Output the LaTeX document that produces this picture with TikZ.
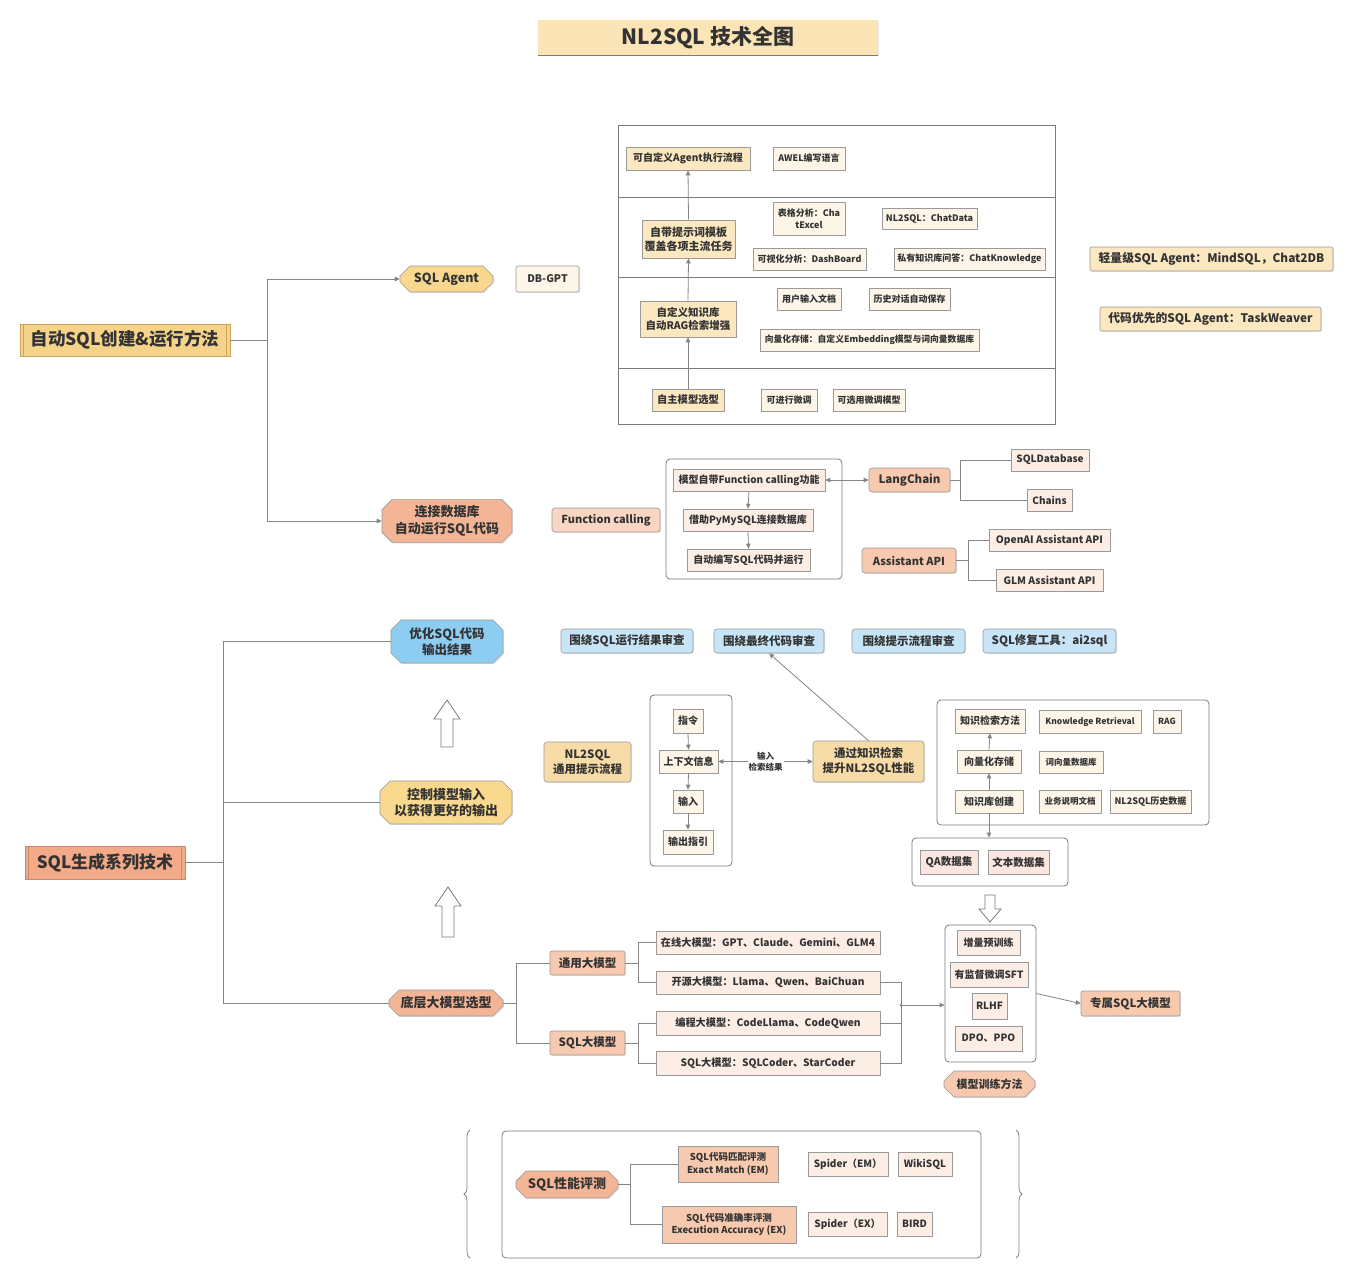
\documentclass[tikz,border=0pt]{standalone}
\usepackage{fontspec}
\setmainfont{Noto Sans CJK SC}
\usetikzlibrary{shapes.misc,arrows.meta,decorations.pathreplacing,shadows}
\definecolor{cText}{HTML}{333333}
\definecolor{cLine}{HTML}{9A9A9A}
\definecolor{cCont}{HTML}{7A7A7A}
\definecolor{cConn}{HTML}{858585}
\definecolor{cTitle}{HTML}{FBE4B6}
\definecolor{cGold}{HTML}{F5D48A}
\definecolor{cGoldL}{HTML}{C9A55C}
\definecolor{cGold2}{HTML}{F8D88E}
\definecolor{cTan}{HTML}{FBE7C0}
\definecolor{cTan2}{HTML}{F8DCA7}
\definecolor{cCream}{HTML}{FDF6E8}
\definecolor{cSalmon}{HTML}{F4B596}
\definecolor{cSalmon2}{HTML}{F2AA88}
\definecolor{cSalL}{HTML}{C98A6C}
\definecolor{cMSalmon}{HTML}{F7C9AE}
\definecolor{cLSalmon}{HTML}{F9D6C2}
\definecolor{cPeach}{HTML}{FDEEE5}
\definecolor{cPink}{HTML}{FCE6E0}
\definecolor{cBlue}{HTML}{8DCDF2}
\definecolor{cLBlue}{HTML}{C8E4F7}
\definecolor{cGold3}{HTML}{F8D98D}
\tikzset{
  fs/.code={\pgfmathsetmacro\fslead{1.3*#1}\edef\fsfont{\noexpand\fontsize{#1}{\fslead}\noexpand\selectfont\noexpand\bfseries}\tikzset{font/.expand once=\fsfont}},
  box/.style={draw=cLine, line width=0.6pt, inner sep=1pt, align=center, text=cText,
    drop shadow={opacity=0.18, shadow xshift=1.2pt, shadow yshift=-1.2pt}},
  cont/.style={draw=cCont, line width=0.8pt, rounded corners=4pt, inner sep=0pt},
  octo/.style={chamfered rectangle, chamfered rectangle xsep=5pt, chamfered rectangle ysep=5pt},
  conn/.style={draw=cConn, line width=0.8pt},
  arr/.style={conn, -{Triangle[length=5pt,width=4.5pt]}},
  darr/.style={conn, {Triangle[length=5pt,width=4.5pt]}-{Triangle[length=5pt,width=4.5pt]}},
  hollow/.style={draw=cCont, line width=0.8pt, fill=white}
}
\newcommand\mybox[7]{\node[#2,minimum width={(#5)-(#3)},minimum height={(#6)-(#4)}] (#1) at ({((#3)+(#5))/2},{((#4)+(#6))/2}) {#7};}
\begin{document}
\begin{tikzpicture}[x=1pt,y=-1pt]
\fill[white] (0,0) rectangle (1354,1280);
\useasboundingbox (0,0) rectangle (1354,1280);

% title
\mybox{title}{box,draw=none,drop shadow={opacity=0},fill=cTitle,fs=21}{538}{20}{878}{55}{NL2SQL 技术全图}
\draw[line width=1pt, cCont] (title.south west) -- (title.south east);

% ================= Section 1 =================
\mybox{auto}{box,fill=cGold,draw=cGoldL,fs=17.5}{20}{324}{230}{356}{自动SQL创建\&运行方法}
\draw[cGoldL,line width=0.6pt] ([xshift=4pt]auto.north west) -- ([xshift=4pt]auto.south west);
\draw[cGoldL,line width=0.6pt] ([xshift=-4pt]auto.north east) -- ([xshift=-4pt]auto.south east);
\mybox{sqlagent}{box,octo,fill=cGold2,fs=12.5}{400}{266}{493}{292}{SQL Agent}
\mybox{dbgpt}{box,rounded corners=2pt,fill=cCream,fs=10.5}{516}{266}{579}{292}{DB-GPT}

\mybox{agentbox}{cont,rounded corners=0pt}{618}{125}{1055}{424}{}
\draw[cCont,line width=0.8pt] (618,197) -- (1055,197);
\draw[cCont,line width=0.8pt] (618,277) -- (1055,277);
\draw[cCont,line width=0.8pt] (618,368) -- (1055,368);

\mybox{r1a}{box,fill=cTan,fs=10}{626}{147}{750}{170}{可自定义Agent执行流程}
\mybox{r1b}{box,fill=cCream,fs=9}{773}{147}{845}{170}{AWEL编写语言}
\mybox{r2a}{box,fill=cTan,fs=11}{642}{220}{735}{258}{自带提示词模板\\覆盖各项主流任务}
\mybox{r2b}{box,fill=cCream,fs=9}{773}{202}{845}{235}{表格分析：Cha\\tExcel}
\mybox{r2c}{box,fill=cCream,fs=9}{882}{208}{977}{229}{NL2SQL：ChatData}
\mybox{r2d}{box,fill=cCream,fs=9}{753}{248}{866}{270}{可视化分析：DashBoard}
\mybox{r2e}{box,fill=cCream,fs=9}{894}{248}{1045}{270}{私有知识库问答：ChatKnowledge}
\mybox{r3a}{box,fill=cTan,fs=10.5}{640}{301}{736}{337}{自定义知识库\\自动RAG检索增强}
\mybox{r3b}{box,fill=cCream,fs=9}{777}{288}{841}{310}{用户输入文档}
\mybox{r3c}{box,fill=cCream,fs=9}{869}{288}{950}{310}{历史对话自动保存}
\mybox{r3d}{box,fill=cCream,fs=8.8}{760}{329}{979}{351}{向量化存储：自定义Embedding模型与词向量数据库}
\mybox{r4a}{box,fill=cTan,fs=10.3}{652}{389}{724}{411}{自主模型选型}
\mybox{r4b}{box,fill=cCream,fs=9}{761}{389}{817}{411}{可进行微调}
\mybox{r4c}{box,fill=cCream,fs=9}{833}{389}{905}{411}{可选用微调模型}
\draw[arr] (r4a.north) -- (r3a.south);
\draw[arr] (r3a.north) -- (r2a.south);
\draw[arr] (r2a.north) -- (r1a.south);

\mybox{light}{box,rounded corners=2pt,fill=cTan,fs=11.8}{1090}{247}{1333}{271}{轻量级SQL Agent：MindSQL，Chat2DB}
\mybox{taskw}{box,rounded corners=2pt,fill=cTan,fs=11.8}{1100}{307}{1321}{331}{代码优先的SQL Agent：TaskWeaver}

\mybox{conn}{box,octo,fill=cSalmon,fs=13}{382}{500}{512}{542}{连接数据库\\自动运行SQL代码}
\mybox{fc}{box,rounded corners=3pt,fill=cLSalmon,fs=11}{552}{508}{660}{532}{Function calling}
\mybox{fcbox}{cont}{666}{459}{842}{579}{}
\mybox{fc1}{box,fill=cPeach,fs=10}{673}{469}{825}{491}{模型自带Function calling功能}
\mybox{fc2}{box,fill=cPeach,fs=10}{683}{509}{813}{531}{借助PyMySQL连接数据库}
\mybox{fc3}{box,fill=cPeach,fs=10}{687}{549}{810}{571}{自动编写SQL代码并运行}
\mybox{lc}{box,rounded corners=3pt,fill=cMSalmon,fs=11.5}{869}{468}{950}{492}{LangChain}
\mybox{sqldb}{box,fill=cPeach,fs=10}{1011}{449}{1089}{471}{SQLDatabase}
\mybox{chains}{box,fill=cPeach,fs=10}{1027}{489}{1072}{511}{Chains}
\mybox{asst}{box,rounded corners=3pt,fill=cMSalmon,fs=11}{862}{548}{956}{573}{Assistant API}
\mybox{oai}{box,fill=cPeach,fs=10.2}{989}{529}{1110}{551}{OpenAI Assistant API}
\mybox{glm}{box,fill=cPeach,fs=10.2}{996}{569}{1103}{591}{GLM Assistant API}

\draw[conn] (auto.east) -- ++(37,0) coordinate (aj);
\draw[arr] (aj) |- (sqlagent.west);
\draw[arr] (aj) |- (conn.west);
\draw[arr] (fc1.south) -- (fc2.north);
\draw[arr] (fc2.south) -- (fc3.north);
\draw[darr] (fc1.east) -- (lc.west);
\draw[conn] (lc.east) -- ++(10,0) coordinate (lcj);
\draw[conn] (lcj) |- (sqldb.west);
\draw[conn] (lcj) |- (chains.west);
\draw[conn] (asst.east) -- ++(12,0) coordinate (asj);
\draw[conn] (asj) |- (oai.west);
\draw[conn] (asj) |- (glm.west);

% ================= Section 2 =================
\mybox{gen}{box,fill=cSalmon2,draw=cSalL,fs=17}{25}{846}{185}{879}{SQL生成系列技术}
\draw[cSalL,line width=0.6pt] ([xshift=4pt]gen.north west) -- ([xshift=4pt]gen.south west);
\draw[cSalL,line width=0.6pt] ([xshift=-4pt]gen.north east) -- ([xshift=-4pt]gen.south east);
\mybox{opt}{box,octo,fill=cBlue,fs=12.5}{391}{620}{503}{663}{优化SQL代码\\输出结果}
\mybox{ctl}{box,octo,fill=cGold3,fs=13}{380}{781}{512}{824}{控制模型输入\\以获得更好的输出}
\mybox{base}{box,octo,fill=cSalmon,fs=13}{389}{990}{503}{1016}{底层大模型选型}
\draw[conn] (gen.east) -- ++(38,0) coordinate (gj);
\draw[conn] (gj) |- (opt.west);
\draw[conn] (gj) |- (ctl.west);
\draw[conn] (gj) |- (base.west);

\mybox{rv1}{box,rounded corners=3pt,fill=cLBlue,fs=11.5}{561}{629}{693}{653}{围绕SQL运行结果审查}
\mybox{rv2}{box,rounded corners=3pt,fill=cLBlue,fs=11.5}{714}{629}{824}{653}{围绕最终代码审查}
\mybox{rv3}{box,rounded corners=3pt,fill=cLBlue,fs=11.5}{852}{629}{965}{653}{围绕提示流程审查}
\mybox{rv4}{box,rounded corners=3pt,fill=cLBlue,fs=11.5}{983}{629}{1116}{653}{SQL修复工具：ai2sql}

% hollow arrows
\draw[hollow] (441,747) -- (441,719) -- (434,719) -- (447,700) -- (460,719) -- (453,719) -- (453,747) -- cycle;
\draw[hollow] (442,937) -- (442,906) -- (435,906) -- (448,887) -- (461,906) -- (454,906) -- (454,937) -- cycle;
\draw[hollow] (985,895) -- (995,895) -- (995,909) -- (1001,909) -- (990,922) -- (979,909) -- (985,909) -- cycle;

\mybox{nlp}{box,rounded corners=3pt,fill=cTan2,fs=11.5}{544}{742}{631}{782}{NL2SQL\\通用提示流程}
\mybox{pbox}{cont}{650}{695}{732}{866}{}
\mybox{p1}{box,fill=cCream,fs=10}{673}{709}{703}{733}{指令}
\mybox{p2}{box,fill=cCream,fs=10}{659}{750}{718}{773}{上下文信息}
\mybox{p3}{box,fill=cCream,fs=10}{673}{790}{703}{813}{输入}
\mybox{p4}{box,fill=cCream,fs=10}{663}{830}{713}{854}{输出指引}
\mybox{kr}{box,rounded corners=3pt,fill=cTan2,fs=11.5}{813}{741}{924}{782}{通过知识检索\\提升NL2SQL性能}
\draw[arr] (p1.south) -- (p2.north);
\draw[arr] (p2.south) -- (p3.north);
\draw[arr] (p3.south) -- (p4.north);
\draw[darr] (p2.east) -- node[fill=white, inner sep=1pt, align=center, text=cText, fs=8.5] (lbl) {输入\\检索结果} (kr.west);
\draw[arr] (kr.north) -- (rv2.south);

\mybox{kbox}{cont}{937}{700}{1209}{825}{}
\mybox{k1}{box,fill=cCream,fs=10}{955}{709}{1025}{733}{知识检索方法}
\mybox{k1b}{box,fill=cCream,fs=8.5}{1039}{710}{1141}{733}{Knowledge Retrieval}
\mybox{k1c}{box,fill=cCream,fs=8.5}{1153}{710}{1181}{733}{RAG}
\mybox{k2}{box,fill=cCream,fs=10}{957}{750}{1021}{773}{向量化存储}
\mybox{k2b}{box,fill=cCream,fs=8.5}{1039}{751}{1103}{773}{词向量数据库}
\mybox{k3}{box,fill=cCream,fs=10}{955}{790}{1023}{813}{知识库创建}
\mybox{k3b}{box,fill=cCream,fs=8.5}{1039}{790}{1101}{813}{业务说明文档}
\mybox{k3c}{box,fill=cCream,fs=9}{1110}{790}{1191}{813}{NL2SQL历史数据}
\draw[arr] (k3.north) -- (k2.south);
\draw[arr] (k2.north) -- (k1.south);
\mybox{dbox}{cont}{912}{838}{1068}{886}{}
\mybox{qa}{box,fill=cPink,fs=10.5}{920}{850}{978}{874}{QA数据集}
\mybox{tds}{box,fill=cPink,fs=10.5}{988}{850}{1049}{874}{文本数据集}
\draw[arr] (k3.south) -- (k3.south |- dbox.north);

% model selection
\mybox{gm}{box,rounded corners=2pt,fill=cMSalmon,fs=11.5}{550}{951}{625}{975}{通用大模型}
\mybox{sm}{box,rounded corners=2pt,fill=cMSalmon,fs=11.5}{550}{1031}{625}{1055}{SQL大模型}
\mybox{m1}{box,fill=cPeach,fs=10.2}{656}{931}{880}{954}{在线大模型：GPT、Claude、Gemini、GLM4}
\mybox{m2}{box,fill=cPeach,fs=10.2}{656}{971}{880}{994}{开源大模型：Llama、Qwen、BaiChuan}
\mybox{m3}{box,fill=cPeach,fs=10.2}{656}{1011}{880}{1035}{编程大模型：CodeLlama、CodeQwen}
\mybox{m4}{box,fill=cPeach,fs=10.2}{656}{1051}{880}{1075}{SQL大模型：SQLCoder、StarCoder}
\draw[conn] (base.east) -- ++(13,0) coordinate (bj);
\draw[conn] (bj) |- (gm.west);
\draw[conn] (bj) |- (sm.west);
\draw[conn] (gm.east) -- ++(13,0) coordinate (gmj);
\draw[conn] (gmj) |- (m1.west);
\draw[conn] (gmj) |- (m2.west);
\draw[conn] (sm.east) -- ++(13,0) coordinate (smj);
\draw[conn] (smj) |- (m3.west);
\draw[conn] (smj) |- (m4.west);

\mybox{train}{cont}{945}{925}{1036}{1062}{}
\mybox{t1}{box,fill=cPeach,fs=10}{957}{930}{1020}{955}{增量预训练}
\mybox{t2}{box,fill=cPeach,fs=10}{950}{962}{1028}{987}{有监督微调SFT}
\mybox{t3}{box,fill=cPeach,fs=10}{972}{993}{1007}{1019}{RLHF}
\mybox{t4}{box,fill=cPeach,fs=10}{955}{1026}{1022}{1051}{DPO、PPO}
\mybox{tm}{box,octo,fill=cMSalmon,fs=11}{944}{1071}{1035}{1097}{模型训练方法}
\mybox{excl}{box,rounded corners=2pt,fill=cMSalmon,fs=11.5}{1081}{991}{1180}{1016}{专属SQL大模型}

\coordinate (jx) at (901,1005);
\draw[conn] (m2.east) -| (jx) |- (m4.east);
\draw[conn] (m3.east) -- (m3.east -| jx);
\fill[cConn] (jx) circle (1.5pt);
\draw[arr] (jx) -- (jx -| train.west);
\draw[arr] (train.east) -- (excl.west);

% ================= Evaluation =================
\mybox{ebox}{cont}{502}{1131}{981}{1258}{}
\mybox{ev}{box,octo,fill=cSalmon,fs=13}{516}{1171}{618}{1198}{SQL性能评测}
\mybox{em}{box,fill=cMSalmon,fs=9.5}{678}{1146}{778}{1182}{SQL代码匹配评测\\Exact Match (EM)}
\mybox{ex}{box,fill=cMSalmon,fs=9.5}{662}{1206}{796}{1243}{SQL代码准确率评测\\Execution Accuracy (EX)}
\mybox{sp1}{box,fill=cPeach,fs=10}{808}{1152}{888}{1176}{Spider（EM）}
\mybox{wiki}{box,fill=cPeach,fs=10}{898}{1152}{952}{1176}{WikiSQL}
\mybox{sp2}{box,fill=cPeach,fs=10}{808}{1212}{887}{1236}{Spider（EX）}
\mybox{bird}{box,fill=cPeach,fs=10}{897}{1212}{932}{1236}{BIRD}
\draw[conn] (ev.east) -- ++(12,0) coordinate (ej);
\draw[conn] (ej) |- (em.west);
\draw[conn] (ej) |- (ex.west);

\draw[cConn, line width=0.8pt, decorate, decoration={brace, amplitude=6pt}] (470,1258) -- (470,1130);
\draw[cConn, line width=0.8pt, decorate, decoration={brace, amplitude=6pt}] (1016,1130) -- (1016,1258);
\end{tikzpicture}
\end{document}
